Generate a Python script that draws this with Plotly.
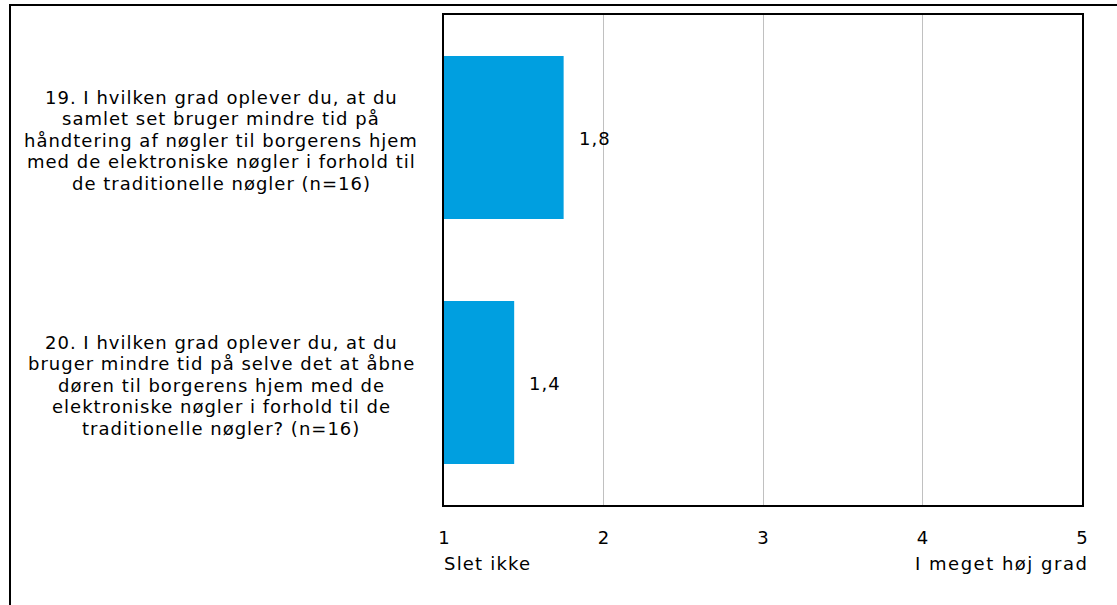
import plotly.graph_objects as go

# Survey items (question text split into display lines) and mean scores on a 1-5 scale
question_lines = [
    [
        "19. I hvilken grad oplever du, at du",
        "samlet set bruger mindre tid på",
        "håndtering af nøgler til borgerens hjem",
        "med de elektroniske nøgler i forhold til",
        "de traditionelle nøgler (n=16)",
    ],
    [
        "20. I hvilken grad oplever du, at du",
        "bruger mindre tid på selve det at åbne",
        "døren til borgerens hjem med de",
        "elektroniske nøgler i forhold til de",
        "traditionelle nøgler? (n=16)",
    ],
]
item_ids = ["q19", "q20"]
means = [1.75, 1.44]
scale_ticks = [1, 2, 3, 4, 5]
scale_low_label = "Slet ikke"
scale_high_label = "I meget høj grad"

FONT = "DejaVu Sans"
FSIZE = 18
SPACING = "1px"
LINE_H = 21.5
BAR_COLOR = "#009fe0"
W, H = 1117, 605
ML, MR, MT, MB = 444, 35, 15, 100
PW, PH = W - ML - MR, H - MT - MB


def spaced(s, ls=SPACING):
    return f'<span style="letter-spacing:{ls}">{s}</span>'


txt_font = dict(family=FONT, size=FSIZE, color="black")

fig = go.Figure()
fig.add_trace(go.Bar(
    y=item_ids,
    x=[m - 1 for m in means],
    base=1,
    orientation="h",
    marker=dict(color=BAR_COLOR, line=dict(width=0)),
    width=0.665,
    hoverinfo="skip",
))

annotations = []
# value labels next to each bar, formatted with a decimal comma
for iid, m in zip(item_ids, means):
    annotations.append(dict(
        x=m, y=iid, xref="x", yref="y",
        text=spaced(f"{m:.1f}".replace(".", ",")),
        showarrow=False, xanchor="left", xshift=13, yshift=-1,
        font=txt_font,
    ))
# question texts, centred in the left margin, one annotation per line
for iid, lines in zip(item_ids, question_lines):
    n = len(lines)
    for i, line in enumerate(lines):
        offset = (i - (n - 1) / 2) * LINE_H + 2.5
        annotations.append(dict(
            x=(221 - ML) / PW, y=iid, xref="paper", yref="y", text=spaced(line),
            showarrow=False, xanchor="center", yanchor="middle",
            yshift=-offset, font=txt_font,
        ))
# scale end labels under the axis
annotations.append(dict(
    x=(442 - ML) / PW, y=-(563 - MT - PH) / PH, xref="paper", yref="paper",
    text=spaced(scale_low_label, "1.2px"), showarrow=False,
    xanchor="left", yanchor="middle", font=txt_font,
))
annotations.append(dict(
    x=(1090 - ML) / PW, y=-(563 - MT - PH) / PH, xref="paper", yref="paper",
    text=spaced(scale_high_label, "1.5px"), showarrow=False,
    xanchor="right", yanchor="middle", font=txt_font,
))

fig.update_layout(
    width=W, height=H,
    margin=dict(l=ML, r=MR, t=MT, b=MB),
    paper_bgcolor="white", plot_bgcolor="white",
    showlegend=False,
    font=txt_font,
    xaxis=dict(
        range=[1, 5], tickvals=scale_ticks, ticktext=[str(t) for t in scale_ticks],
        showgrid=True, gridcolor="#c0c0c0", gridwidth=1,
        showline=True, linecolor="black", linewidth=2, mirror=True,
        zeroline=False, ticks="", ticklen=0, ticklabelstandoff=15,
        tickfont=txt_font,
        fixedrange=True,
    ),
    yaxis=dict(
        categoryorder="array", categoryarray=item_ids[::-1],
        range=[-0.5, 1.5],
        showticklabels=False, showgrid=False,
        showline=True, linecolor="black", linewidth=2, mirror=True,
        zeroline=False, ticks="", fixedrange=True,
    ),
    annotations=annotations,
    shapes=[dict(
        type="rect", xref="paper", yref="paper",
        x0=(10 - ML) / PW, x1=(W + 20 - ML) / PW,
        y0=-(H + 20 - MT - PH) / PH, y1=(PH + MT - 5) / PH,
        line=dict(color="black", width=2), layer="above",
    )],
)

fig.write_html("out.html")
